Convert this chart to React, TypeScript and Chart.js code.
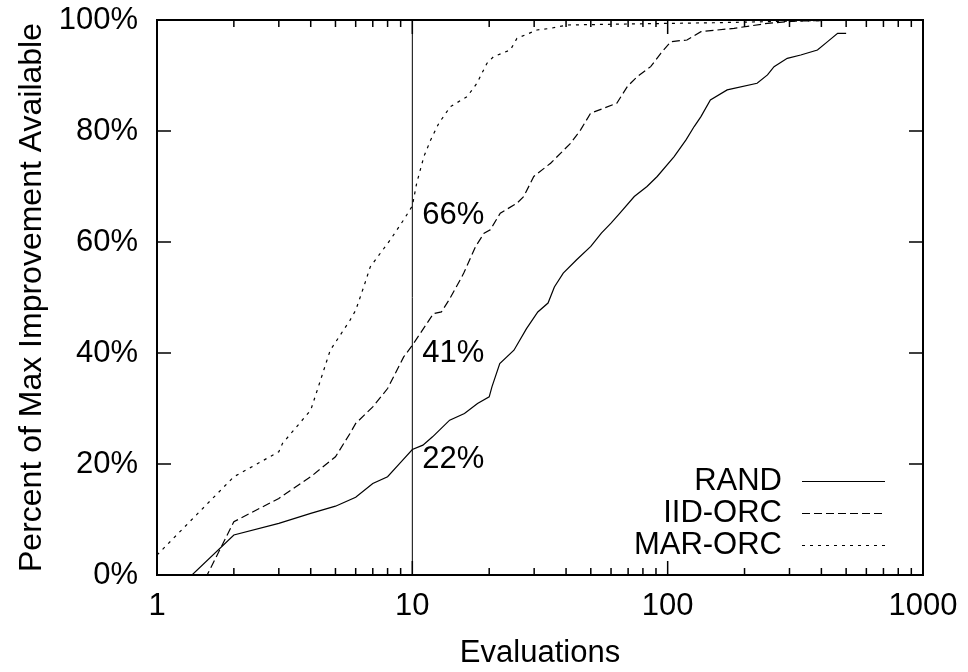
import React, { useEffect, useRef } from "react";
import { Chart, registerables } from "chart.js";

Chart.register(...registerables);

// ---- data ----
const randX = [1, 2, 3, 4, 5, 6, 7, 8, 9, 10, 11, 12, 14, 16, 18, 20, 20.5, 22, 25, 28, 31, 34, 36, 39, 44, 50, 55, 60, 65, 74, 83, 91, 106, 118, 127, 135, 147, 171, 224, 246, 261, 294, 332, 386, 423, 463, 500];
const randY = [-6, 7.2, 9.3, 11.1, 12.4, 14.0, 16.5, 17.7, 20.3, 22.6, 23.4, 24.9, 27.9, 29.1, 30.9, 32.1, 33.9, 38.1, 40.5, 44.4, 47.4, 49.0, 51.9, 54.4, 56.8, 59.2, 61.6, 63.4, 65.2, 68.2, 70.0, 71.8, 75.4, 78.4, 80.8, 82.6, 85.6, 87.4, 88.6, 90.1, 91.6, 93.1, 93.7, 94.6, 96.1, 97.6, 97.6];

const iidX = [1, 2, 3, 4, 5, 5.7, 6, 7, 8, 9.25, 10, 12.1, 13, 13.9, 15.4, 15.9, 17.7, 19.1, 20.2, 22.1, 25.7, 27.3, 29.9, 34.8, 41.7, 45.6, 49.9, 63.2, 69.5, 76, 85.8, 94, 103, 119, 135, 182, 246, 313, 500];
const iidY = [-18, 9.6, 13.8, 17.7, 21.3, 25.5, 27.3, 30.3, 33.6, 39.3, 41.4, 47.1, 47.4, 49.5, 53.2, 54.4, 59.2, 61.6, 62.2, 65.2, 67.0, 68.2, 71.8, 74.2, 77.8, 80.2, 83.2, 85.0, 88.0, 89.8, 91.6, 94.0, 96.1, 96.4, 97.9, 98.5, 99.4, 99.8, 100];

const marX = [1, 2, 3, 3.1, 4, 4.77, 5.7, 6, 6.45, 6.84, 7.5, 8.2, 9.25, 10, 10.4, 11.1, 11.8, 12.7, 14.1, 16.4, 17.9, 19.6, 20.8, 24.2, 25.7, 30.8, 34.8, 40.5, 74, 150, 246, 500];
const marY = [3.6, 17.7, 22.2, 23.7, 29.7, 40.5, 45.9, 47.7, 51.9, 55.5, 58.0, 60.4, 64.0, 66.5, 70.6, 75.4, 78.4, 81.4, 84.4, 86.2, 88.6, 92.2, 93.4, 94.6, 96.7, 98.2, 98.5, 99.1, 99.3, 99.5, 99.7, 100];

const seriesNames = ["RAND", "IID-ORC", "MAR-ORC"];
const markerX = [10, 10];
const markerY = [0, 100];
const noteTexts = ["66%", "41%", "22%"];
const noteY = [64.7, 40.0, 20.9];
const xTickValues = [1, 10, 100, 1000];
const yTickStep = 20;

const FONT_FAMILY = "'Liberation Sans', Arial, Helvetica, sans-serif";
const FONT = { family: FONT_FAMILY, size: 31 };
const YTITLE_FONT = { family: FONT_FAMILY, size: 32 };

const zip = (xs: number[], ys: number[]) => xs.map((x, i) => ({ x, y: ys[i] }));

const framePlugin = {
  id: "gnuframe",
  afterDatasetsDraw(chart: any) {
    const { ctx, chartArea: a, scales } = chart;
    const x = scales.x;
    const y = scales.y;
    ctx.save();
    ctx.strokeStyle = "#000";
    ctx.lineWidth = 2;
    ctx.strokeRect(a.left, a.top, a.right - a.left, a.bottom - a.top);

    ctx.lineWidth = 1.5;
    ctx.beginPath();
    const majorLen = 14;
    const minorLen = 7;
    for (const v of xTickValues) {
      const px = x.getPixelForValue(v);
      ctx.moveTo(px, a.bottom);
      ctx.lineTo(px, a.bottom - majorLen);
      ctx.moveTo(px, a.top);
      ctx.lineTo(px, a.top + majorLen);
    }
    for (let i = 0; i < xTickValues.length - 1; i++) {
      for (let k = 2; k <= 9; k++) {
        const px = x.getPixelForValue(xTickValues[i] * k);
        ctx.moveTo(px, a.bottom);
        ctx.lineTo(px, a.bottom - minorLen);
        ctx.moveTo(px, a.top);
        ctx.lineTo(px, a.top + minorLen);
      }
    }
    for (let v = 0; v <= 100; v += yTickStep) {
      const py = y.getPixelForValue(v);
      ctx.moveTo(a.left, py);
      ctx.lineTo(a.left + majorLen, py);
      ctx.moveTo(a.right, py);
      ctx.lineTo(a.right - majorLen, py);
    }
    ctx.stroke();

    // annotations near the x=10 marker
    ctx.fillStyle = "#000";
    ctx.font = `31px ${FONT_FAMILY}`;
    ctx.textAlign = "left";
    ctx.textBaseline = "middle";
    const nx = x.getPixelForValue(markerX[0]) + 10;
    noteTexts.forEach((t, i) => {
      ctx.fillText(t, nx, y.getPixelForValue(noteY[i]));
    });

    // legend (gnuplot style: text right aligned, sample line to the right)
    const textRight = 782;
    const lineL = 802;
    const lineR = 885;
    const rowY = [481, 513, 545];
    ctx.textAlign = "right";
    chart.data.datasets.slice(0, 3).forEach((ds: any, i: number) => {
      ctx.fillText(ds.label, textRight, rowY[i]);
      ctx.beginPath();
      ctx.setLineDash(ds.borderDash || []);
      ctx.lineWidth = 1.2;
      ctx.moveTo(lineL, rowY[i] + 0.5);
      ctx.lineTo(lineR, rowY[i] + 0.5);
      ctx.stroke();
    });
    ctx.setLineDash([]);
    ctx.restore();
  },
};

export default function App() {
  const ref = useRef<HTMLCanvasElement | null>(null);

  useEffect(() => {
    if (!ref.current) return;
    const chart = new Chart(ref.current, {
      type: "line",
      data: {
        datasets: [
          {
            label: seriesNames[0],
            data: zip(randX, randY),
            borderColor: "#000",
            borderWidth: 1.2,
            borderDash: [],
          },
          {
            label: seriesNames[1],
            data: zip(iidX, iidY),
            borderColor: "#000",
            borderWidth: 1.2,
            borderDash: [8, 4],
          },
          {
            label: seriesNames[2],
            data: zip(marX, marY),
            borderColor: "#000",
            borderWidth: 1.2,
            borderDash: [3, 5],
          },
          {
            label: "marker",
            data: zip(markerX, markerY),
            borderColor: "#000",
            borderWidth: 1,
          },
        ],
      },
      options: {
        responsive: false,
        animation: false,
        devicePixelRatio: 1,
        layout: { padding: { left: 0, right: 45, top: 20, bottom: 0 } },
        plugins: {
          legend: { display: false },
          tooltip: { enabled: false },
        },
        elements: {
          point: { radius: 0 },
          line: { tension: 0, fill: false },
        },
        scales: {
          x: {
            type: "logarithmic",
            min: 1,
            max: 1000,
            position: "bottom",
            grid: { display: false, drawTicks: false },
            border: { display: false },
            afterBuildTicks: (s: any) => {
              s.ticks = xTickValues.map((v) => ({ value: v, major: true }));
            },
            ticks: {
              autoSkip: false,
              maxRotation: 0,
              padding: 13,
              color: "#000",
              font: FONT,
              callback: (v: any) => String(v),
            },
            title: {
              display: true,
              text: "Evaluations",
              color: "#000",
              font: FONT,
              padding: 0,
            },
            afterFit: (s: any) => {
              s.height = 97;
              s.paddingLeft = 0;
              s.paddingRight = 0;
              s.paddingTop = 0;
              s.paddingBottom = 0;
            },
          },
          y: {
            min: 0,
            max: 100,
            grid: { display: false, drawTicks: false },
            border: { display: false },
            ticks: {
              stepSize: yTickStep,
              padding: 19,
              color: "#000",
              font: FONT,
              callback: (v: any) => `${v}%`,
            },
            title: {
              display: true,
              text: "Percent of Max Improvement Available",
              color: "#000",
              font: YTITLE_FONT,
              padding: { top: 13, bottom: 0 },
            },
            afterFit: (s: any) => {
              s.width = 157;
              s.paddingLeft = 0;
              s.paddingRight = 0;
              s.paddingTop = 0;
              s.paddingBottom = 0;
            },
          },
        },
      } as any,
      plugins: [framePlugin],
    });
    return () => chart.destroy();
  }, []);

  return (
    <div style={{ position: "fixed", left: 0, top: 0, width: 968, height: 672, background: "#fff" }}>
      <canvas ref={ref} width={968} height={672} style={{ display: "block" }} />
    </div>
  );
}
